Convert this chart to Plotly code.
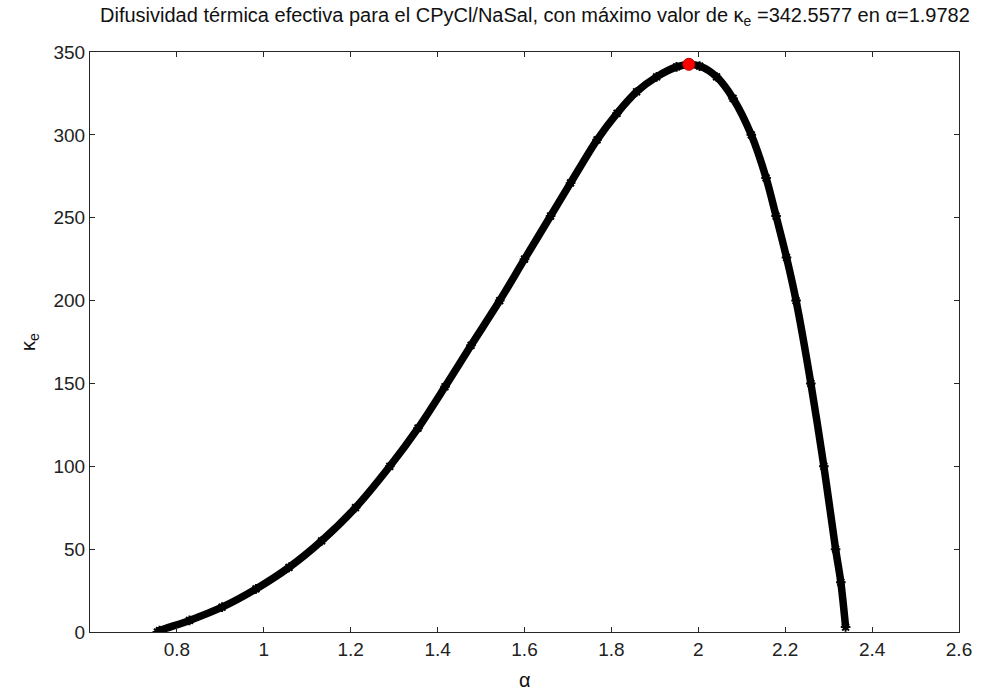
import plotly.graph_objects as go

# Effective thermal diffusivity kappa_e versus alpha
alpha = [0.755, 0.760, 0.829, 0.904, 0.982, 1.058, 1.133, 1.211, 1.290, 1.355,
         1.417, 1.477, 1.543, 1.600, 1.660, 1.706, 1.767, 1.813, 1.858, 1.904,
         1.950, 1.978, 2.003, 2.042, 2.080, 2.122, 2.156, 2.179, 2.203, 2.225,
         2.259, 2.289, 2.316, 2.328, 2.339]
kappa = [0.0, 0.8, 7.0, 15.0, 26.0, 39.0, 55.0, 75.0, 100.0, 123.0,
         148.0, 173.0, 200.0, 225.0, 251.0, 271.0, 297.0, 313.0, 326.0, 335.0,
         341.0, 342.5, 341.5, 335.0, 322.0, 300.0, 274.0, 251.0, 226.0, 200.0,
         150.0, 100.0, 50.0, 30.0, 3.0]

alpha_max = 1.9782
kappa_max = 342.5577

x_ticks = [0.8, 1.0, 1.2, 1.4, 1.6, 1.8, 2.0, 2.2, 2.4, 2.6]
x_tick_text = ["0.8", "1", "1.2", "1.4", "1.6", "1.8", "2", "2.2", "2.4", "2.6"]
y_ticks = [0, 50, 100, 150, 200, 250, 300, 350]

FONT = "Liberation Sans, Arial, sans-serif"

fig = go.Figure()
fig.add_trace(go.Scatter(
    x=alpha, y=kappa, mode="lines+markers",
    line=dict(color="black", width=7.5, shape="spline", smoothing=0.9),
    marker=dict(symbol="asterisk-open", size=8, color="black",
                line=dict(color="black", width=2)),
    showlegend=False, hoverinfo="x+y",
))
fig.add_trace(go.Scatter(
    x=[alpha_max], y=[kappa_max], mode="markers",
    marker=dict(symbol="circle", size=12, color="#ff0000",
                line=dict(color="#c00000", width=1)),
    showlegend=False,
))

axis_common = dict(
    showline=True, linecolor="#262626", linewidth=1, mirror="ticks",
    ticks="inside", ticklen=5, tickcolor="#262626", tickwidth=1,
    showgrid=False, zeroline=False,
    tickfont=dict(family=FONT, size=19, color="#222222"),
)

fig.update_layout(
    width=984, height=691,
    margin=dict(l=90, r=20, t=52, b=59),
    paper_bgcolor="white", plot_bgcolor="white",
    xaxis=dict(range=[0.6, 2.6], tickvals=x_ticks, ticktext=x_tick_text,
               **axis_common),
    yaxis=dict(range=[0, 350], tickvals=y_ticks, **axis_common),
    font=dict(family=FONT),
)

# Title, right edge aligned just past the plot frame
fig.add_annotation(
    text="Difusividad térmica efectiva para el CPyCl/NaSal, con máximo valor de κ<sub>e</sub> =342.5577 en α=1.9782",
    xref="paper", yref="paper", x=1.0149, y=1.0, yshift=36,
    xanchor="right", yanchor="middle", showarrow=False,
    font=dict(family=FONT, size=20, color="#111111"),
)
# Axis labels
fig.add_annotation(
    text="α", xref="paper", yref="paper", x=0.5, y=0.0, yshift=-48,
    xanchor="center", yanchor="middle", showarrow=False,
    font=dict(family=FONT, size=20, color="#111111"),
)
fig.add_annotation(
    text="κ<sub>e</sub>", xref="paper", yref="paper", x=0.0, y=0.5, xshift=-61,
    xanchor="center", yanchor="middle", textangle=-90, showarrow=False,
    font=dict(family=FONT, size=20, color="#111111"),
)

fig.write_html("out.html")
